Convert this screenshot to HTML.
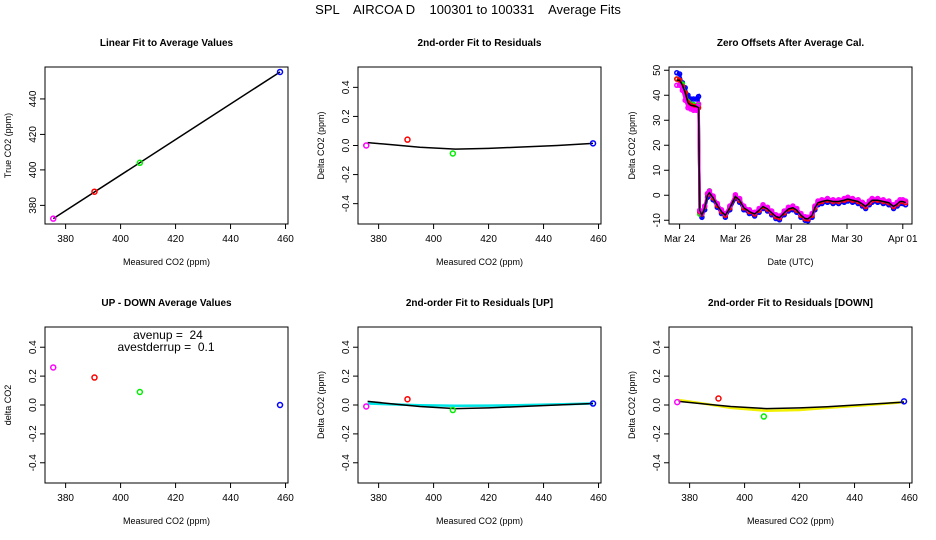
<!DOCTYPE html>
<html><head><meta charset="utf-8">
<style>
body{margin:0;background:#fff;}
svg{display:block;font-family:"Liberation Sans",sans-serif;}
text{white-space:pre;}
</style></head>
<body>
<svg id="fig" width="936" height="540" viewBox="0 0 936 540" xmlns="http://www.w3.org/2000/svg">
<rect width="936" height="540" fill="#fff"/>
<text x="468" y="14" text-anchor="middle" font-size="13" xml:space="preserve">SPL    AIRCOA D    100301 to 100331    Average Fits</text>
</svg>
<script>
// ---------- data ----------
const measured = [375.5, 390.5, 407, 458];
const ptColors = ["#ff00ff", "#ff0000", "#00ee00", "#0000ff"];
const trueVals = [372.5, 387.7, 404, 455.2];
const resid = [0.0, 0.04, -0.055, 0.015];
const updown = [0.26, 0.19, 0.09, 0.0];
const residUp = [-0.01, 0.04, -0.035, 0.01];
const residDown = [0.02, 0.045, -0.08, 0.025];
const fitX = [376, 385, 395, 408, 420, 430, 445, 458];
const fitResid = [0.02, 0.005, -0.012, -0.025, -0.02, -0.012, 0.0, 0.015];
const fitUpBlack = [0.025, 0.008, -0.01, -0.025, -0.02, -0.012, 0.0, 0.01];
const fitUpCyan = [0.01, 0.004, -0.002, -0.005, -0.004, -0.002, 0.004, 0.01];
const fitDownBlack = [0.025, 0.008, -0.01, -0.025, -0.02, -0.012, 0.005, 0.02];
const fitDownYellow = [0.035, 0.01, -0.02, -0.04, -0.035, -0.02, 0.0, 0.02];
const deltaTicks = [-0.4, -0.2, 0.0, 0.2, 0.4];
const deltaTickLabels = ["-0.4", "-0.2", "0.0", "0.2", "0.4"];
const xTicks = [380, 400, 420, 440, 460];
const trueTicks = [380, 400, 420, 440];
// zero offsets (days since Mar 24)
const days = [-0.1,0,0.1,0.2,0.3,0.4,0.5,0.6,0.68,0.72,0.8,0.9,1.0,1.07,1.2,1.35,1.5,1.64,1.8,2.0,2.15,2.3,2.5,2.69,2.85,2.99,3.15,3.3,3.45,3.58,3.75,3.9,4.06,4.2,4.35,4.5,4.6,4.75,4.85,4.96,5.1,5.3,5.5,5.7,5.9,6.03,6.2,6.4,6.55,6.67,6.8,6.9,7.1,7.3,7.5,7.67,7.8,7.9,8.0,8.1];
const zeroBlack = [46,46,44,41,37,36,35.8,35.5,35,-6,-8,-5,0,1,-1,-4,-6.5,-8,-5,-0.5,-2,-5,-6.5,-7.5,-6,-4.5,-5.5,-7,-8.5,-9,-7,-5.5,-5,-6,-8,-9.3,-9.5,-8,-5,-3,-2.5,-2,-2.5,-2.5,-2,-1.5,-2,-2.5,-3.5,-4.5,-3,-2,-2,-2.5,-3,-4.5,-3.5,-2.5,-2.5,-3];
const zeroBlue = [49,48.5,45,43,40,38.5,38.5,38.5,39.5,-7,-8.8,-5.8,-0.8,0.2,-1.8,-4.8,-7.3,-8.8,-5.8,-1.3,-2.8,-5.8,-7.3,-8.3,-6.8,-5.3,-6.3,-7.8,-9.3,-9.8,-7.8,-6.3,-5.8,-6.8,-8.8,-10,-10.2,-8.8,-5.8,-3.8,-3.3,-2.8,-3.3,-3.3,-2.8,-2.3,-2.8,-3.3,-4.3,-5.3,-3.8,-2.8,-2.8,-3.3,-3.8,-5.3,-4.3,-3.3,-3.3,-3.8];
const zeroGreen = [46.5,46,44.5,41,37.5,36.5,36.3,36,36,-7.5,-7.5,-4.5,0.5,1.8,-0.5,-3.5,-6,-7.5,-4.5,0,-1.5,-4.5,-6,-7,-5.5,-4,-5,-6.5,-8,-8.5,-6.5,-5,-4.5,-5.5,-7.5,-8.8,-9,-7.5,-4.5,-2.5,-2,-1.5,-2,-2,-1.5,-1,-1.5,-2,-3,-4,-2.5,-1.5,-1.5,-2,-2.5,-4,-3,-2,-2,-2.5];
const zeroRed = [46.5,46,43.5,41,37,36,35.5,35.5,35,-6.5,-7.5,-4.5,0.3,1,-1,-4,-6.5,-8,-5,-0.5,-2,-5,-6.5,-7.5,-6,-4.5,-5.5,-7,-8.5,-9,-7,-5.5,-5,-6,-8,-9.3,-9.5,-8,-5,-3,-2.5,-2,-2.5,-2.5,-2,-1.5,-2,-2.5,-3.5,-4.5,-3,-2,-2,-2.5,-3,-4.5,-3.5,-2.5,-2.5,-3];
const zeroMagenta = [44,44,42,38,35,34.5,34,34,36.5,-6,-7.3,-4.3,0.7,1.7,-0.3,-3.3,-5.8,-7.3,-4.3,0.2,-1.3,-4.3,-5.8,-6.8,-5.3,-3.8,-4.8,-6.3,-7.8,-8.3,-6.3,-4.8,-4.3,-5.3,-7.3,-8.6,-8.8,-7.3,-4.3,-2.3,-1.8,-1.3,-1.8,-1.8,-1.3,-0.8,-1.3,-1.8,-2.8,-3.8,-2.3,-1.3,-1.3,-1.8,-2.3,-3.8,-2.8,-1.8,-1.8,-2.3];
const zeroTicks = [-10, 0, 10, 20, 30, 40, 50];
const dateTicks = [0, 2, 4, 6, 8];
const dateLabels = ["Mar 24", "Mar 26", "Mar 28", "Mar 30", "Apr 01"];

// ---------- drawing ----------
const NS = "http://www.w3.org/2000/svg";
const svg = document.getElementById("fig");
function mk(tag, attrs, parent, txt) {
  const e = document.createElementNS(NS, tag);
  for (const k in attrs) e.setAttribute(k, attrs[k]);
  if (txt !== undefined) e.textContent = txt;
  (parent || svg).appendChild(e);
  return e;
}
const W = 243;
function panel(name, left, top, h, title, xlab, ylab, xmin, xmax, ymin, ymax) {
  const g = mk("g", {});
  
  
  const sx = v => left + (v - xmin) / (xmax - xmin) * W;
  const sy = v => top + h - (v - ymin) / (ymax - ymin) * h;
  const box = mk("rect", {x: left, y: top, width: W, height: h, fill: "none", stroke: "#000", "stroke-width": 1}, g);
  
  
  const t = mk("text", {x: left + W / 2, y: top - 21, "text-anchor": "middle", "font-size": 10, "font-weight": "bold"}, g, title);
  
  
  const xl = mk("text", {x: left + W / 2, y: top + h + 41, "text-anchor": "middle", "font-size": 9}, g, xlab);
  
  
  const yl = mk("text", {x: 0, y: 0, "text-anchor": "middle", "font-size": 9, transform: `translate(${left - 34},${top + h / 2}) rotate(-90)`}, g, ylab);
  
  
  return {g, sx, sy, left, top, h};
}
function xAxis(p, ticks, labels) {
  const y0 = p.top + p.h;
  ticks.forEach((v, i) => {
    const x = p.sx(v);
    mk("line", {x1: x, x2: x, y1: y0, y2: y0 + 5, stroke: "#000"}, p.g);
    const tl = mk("text", {x: x, y: y0 + 18, "text-anchor": "middle", "font-size": 10}, p.g, labels[i]);
    
    
  });
}
function yAxis(p, ticks, labels) {
  ticks.forEach((v, i) => {
    const y = p.sy(v);
    mk("line", {x1: p.left - 5, x2: p.left, y1: y, y2: y, stroke: "#000"}, p.g);
    const tl = mk("text", {x: 0, y: 0, "text-anchor": "middle", "font-size": 10, transform: `translate(${p.left - 9},${y}) rotate(-90)`}, p.g, labels[i]);
    
    
  });
}
function pts(p, xs, ys, colors, r) {
  xs.forEach((x, i) => {
    const c = mk("circle", {cx: p.sx(x), cy: p.sy(ys[i]), r: r || 2.5, fill: "none", stroke: Array.isArray(colors) ? colors[i] : colors, "stroke-width": 1.5}, p.g);
    
    
  });
}
function line(p, xs, ys, color, w, nm) {
  const l = mk("polyline", {points: xs.map((x, i) => p.sx(x) + "," + p.sy(ys[i])).join(" "), fill: "none", stroke: color, "stroke-width": w}, p.g);
  
  
}
const xmin = 372.5, xmax = 460.9;
const labStr = v => String(v);

// Panel 1
let p = panel("linear-fit-panel", 45, 67, 157, "Linear Fit to Average Values", "Measured CO2 (ppm)", "True CO2 (ppm)", xmin, xmax, 369.5, 458);
xAxis(p, xTicks, xTicks.map(labStr));
yAxis(p, trueTicks, trueTicks.map(labStr));
line(p, [measured[0], measured[3]], [trueVals[0], trueVals[3]], "#000", 1.5, "linear-fit-line");
pts(p, measured, trueVals, ptColors);

// Panel 2
p = panel("residual-fit-panel", 358, 67, 157, "2nd-order Fit to Residuals", "Measured CO2 (ppm)", "Delta CO2 (ppm)", xmin, xmax, -0.54, 0.54);
xAxis(p, xTicks, xTicks.map(labStr));
yAxis(p, deltaTicks, deltaTickLabels);
line(p, fitX, fitResid, "#000", 1.5, "fit-curve");
pts(p, measured, resid, ptColors);

// Panel 3
p = panel("zero-offsets-panel", 669, 67, 157, "Zero Offsets After Average Cal.", "Date (UTC)", "Delta CO2 (ppm)", -0.38, 8.33, -11.5, 51.3);
xAxis(p, dateTicks, dateLabels);
yAxis(p, zeroTicks, zeroTicks.map(labStr));
[[zeroBlue, "#0000ff", "zero-blue"], [zeroGreen, "#00ee00", "zero-green"], [zeroRed, "#ff0000", "zero-red"], [zeroMagenta, "#ff00ff", "zero-magenta"]].forEach(s => {
  line(p, days, s[0], s[1], 2.5, s[2] + "-line");
  pts(p, days, s[0], s[1], 2);
});
line(p, days, zeroBlack, "#000", 1.5, "zero-mean-line");

// Panel 4
p = panel("updown-panel", 45, 327, 156, "UP - DOWN Average Values", "Measured CO2 (ppm)", "delta CO2", xmin, xmax, -0.54, 0.54);
xAxis(p, xTicks, xTicks.map(labStr));
yAxis(p, deltaTicks, deltaTickLabels);
pts(p, measured, updown, ptColors);
let a1 = mk("text", {x: 168, y: 339, "text-anchor": "middle", "font-size": 12, "xml:space": "preserve"}, p.g, "avenup =  24");


let a2 = mk("text", {x: 166, y: 351, "text-anchor": "middle", "font-size": 12}, p.g, "avestderrup =  0.1");



// Panel 5
p = panel("residual-up-panel", 358, 327, 156, "2nd-order Fit to Residuals [UP]", "Measured CO2 (ppm)", "Delta CO2 (ppm)", xmin, xmax, -0.54, 0.54);
xAxis(p, xTicks, xTicks.map(labStr));
yAxis(p, deltaTicks, deltaTickLabels);
line(p, fitX, fitUpCyan, "#00e5e5", 2.5, "up-fit-curve");
line(p, fitX, fitUpBlack, "#000", 1.5, "fit-curve");
pts(p, measured, residUp, ptColors);

// Panel 6
p = panel("residual-down-panel", 669, 327, 156, "2nd-order Fit to Residuals [DOWN]", "Measured CO2 (ppm)", "Delta CO2 (ppm)", xmin, xmax, -0.54, 0.54);
xAxis(p, xTicks, xTicks.map(labStr));
yAxis(p, deltaTicks, deltaTickLabels);
line(p, fitX, fitDownYellow, "#f0f000", 2.5, "down-fit-curve");
line(p, fitX, fitDownBlack, "#000", 1.5, "fit-curve");
pts(p, measured, residDown, ptColors);
</script>
</body></html>
